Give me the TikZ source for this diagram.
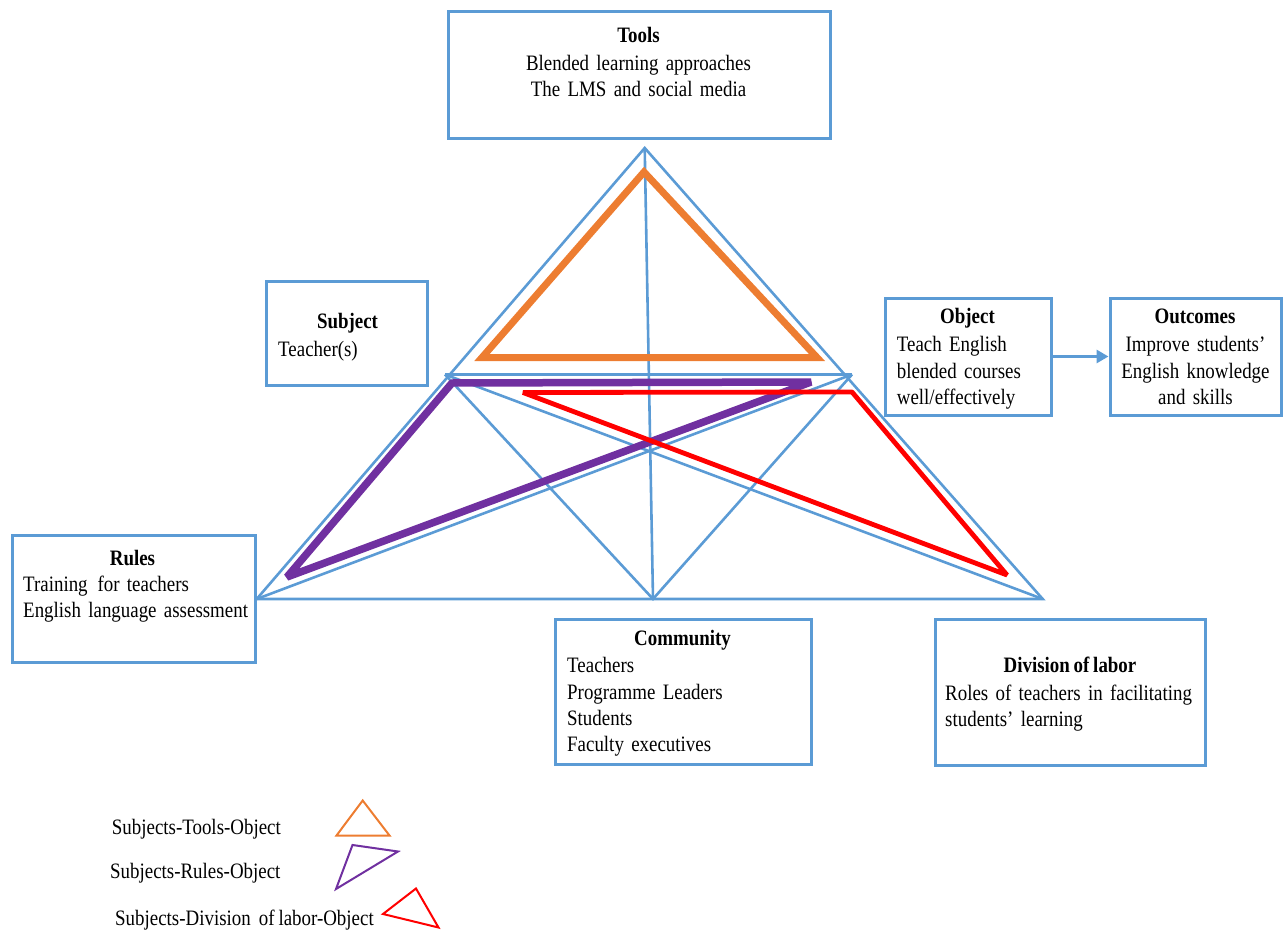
\documentclass[tikz,border=0pt]{standalone}
\usepackage{fontspec}
\setmainfont{Liberation Serif}[FakeStretch=0.86, WordSpace=0.8]
\usetikzlibrary{arrows.meta}

\definecolor{frameblue}{HTML}{5B9BD5}
\definecolor{stoorange}{HTML}{ED7D31}
\definecolor{sropurple}{HTML}{7030A0}
\definecolor{sdored}{HTML}{FF0000}

\tikzset{
  box/.style={draw=frameblue, line width=3pt, inner sep=0pt, fill=white},
  boxtitle/.style={anchor=base, inner sep=0pt, font=\fontsize{22}{26.3}\selectfont\bfseries},
  boxtext/.style={anchor=base west, inner sep=0pt, text width=400pt, align=left,
                  font=\fontsize{22}{26.3}\selectfont},
  boxtextc/.style={anchor=base, inner sep=0pt, text width=360pt, align=center,
                   font=\fontsize{22}{26.3}\selectfont},
  frame/.style={draw=frameblue, line width=2.6pt},
  sto/.style={draw=stoorange, line width=7pt},
  sro/.style={draw=sropurple, line width=7.5pt, line join=bevel},
  sdo/.style={draw=sdored, line width=4.8pt, line join=bevel},
  legendtext/.style={anchor=base west, inner sep=0pt, font=\fontsize{22}{26.3}\selectfont},
}

\begin{document}
\begin{tikzpicture}[x=1pt,y=-1pt]
\useasboundingbox (0,0) rectangle (1288,931);

% ---- activity-system triangle ----
\coordinate (apex) at (644.7,148);
\coordinate (bl) at (256.7,599);
\coordinate (br) at (1042.7,599);
\coordinate (bc) at (653,599);
\coordinate (il) at (445,374.5);
\coordinate (ir) at (852,374.5);

\draw[frame, line join=miter] (apex) -- (bl) -- (br) -- cycle;
\draw[frame] (il) -- (ir);
\draw[frame] (apex) -- (bc);
\draw[frame] (il) -- (bc) -- (ir);
\draw[frame] (il) -- (br);
\draw[frame] (ir) -- (bl);

% ---- highlighted sub-triangles ----
\coordinate (o1) at (644,172);
\coordinate (o2) at (482,357.5);
\coordinate (o3) at (817,357.5);
\draw[sto] (o1) -- (o2) -- (o3) -- cycle;

\coordinate (p1) at (452,383);
\coordinate (p2) at (811,382);
\coordinate (p3) at (287,577);
\draw[sro] (p1) -- (p2) -- (p3) -- cycle;

\coordinate (r1) at (523,392.5);
\coordinate (r2) at (852,392);
\coordinate (r3) at (1007,575);
\draw[sdo] (r1) -- (r2) -- (r3) -- cycle;

% ---- boxes ----
\node[box, minimum width=382pt, minimum height=127pt] (tools) at (639,75.5) {};
\node[box, minimum width=161pt, minimum height=104pt] (subject) at (346.5,333) {};
\node[box, minimum width=166pt, minimum height=117pt] (object) at (968,356.5) {};
\node[box, minimum width=171pt, minimum height=117pt] (outcomes) at (1195.5,356.5) {};
\node[box, minimum width=243pt, minimum height=127pt] (rules) at (133.5,598.5) {};
\node[box, minimum width=256pt, minimum height=145pt] (community) at (683,691.5) {};
\node[box, minimum width=270pt, minimum height=146pt] (division) at (1070,692) {};

\draw[draw=frameblue, line width=3pt, -{Triangle[length=12pt,width=13pt]}]
  (object.east) -- (outcomes.west);

% ---- box texts ----
\node[boxtitle] (tools-title) at (638.5,42.3) {Tools};
\node[boxtextc] (tools-text) at (638.5,70.5) {Blended learning approaches\\The LMS and social media};

\node[boxtitle] (subject-title) at (347.5,328.3) {Subject};
\node[boxtext] (subject-text) at (278,356.7) {Teacher(s)};

\node[boxtitle] (object-title) at (967.5,323.3) {Object};
\node[boxtext] (object-text) at (896.7,351.7) {Teach English\\blended courses\\well/effectively};

\node[boxtitle] (outcomes-title) at (1195,323.3) {Outcomes};
\node[boxtextc] (outcomes-text) at (1195.5,351.7) {Improve students’\\English knowledge\\and skills};

\node[boxtitle] (rules-title) at (132.5,565) {Rules};
\node[boxtext] (rules-text) at (23,591) {Training\hspace{0.45em}for teachers\\English language assessment};

\node[boxtitle] (community-title) at (682.5,645) {Community};
\node[boxtext] (community-text) at (567,672.7) {Teachers\\Programme Leaders\\Students\\Faculty executives};

\node[boxtitle] (division-title) at (1070,672.7) {Division of labor};
\node[boxtext] (division-text) at (945,700) {Roles of teachers in facilitating\\students’ learning};

% ---- legend ----
\node[legendtext] (leg-sto) at (111.7,834.3) {Subjects-Tools-Object};
\node[legendtext] (leg-sro) at (110,878.3) {Subjects-Rules-Object};
\node[legendtext] (leg-sdo) at (115,925) {Subjects-Division\hspace{0.2em} of labor-Object};

\draw[draw=stoorange, line width=2pt] (362.7,800.5) -- (336.5,835.5) -- (389.5,835.5) -- cycle;
\draw[draw=sropurple, line width=2pt] (352.5,845) -- (398,851.5) -- (336,889) -- cycle;
\draw[draw=sdored, line width=2pt] (416,888.5) -- (383,914) -- (438.5,927.5) -- cycle;
\end{tikzpicture}
\end{document}
